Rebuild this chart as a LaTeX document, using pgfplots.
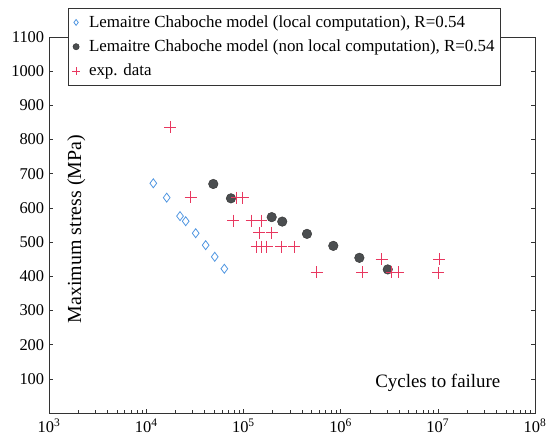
\documentclass[border=0pt]{standalone}
\usepackage{pgfplots}
\pgfplotsset{compat=1.18}
\usepackage{fontspec}
\setmainfont{Liberation Serif}
\definecolor{dblue}{RGB}{80,150,225}
\definecolor{dred}{RGB}{232,55,95}
\definecolor{dgray}{RGB}{75,78,80}
\begin{document}
\fontsize{17}{20}\selectfont
\begin{tikzpicture}
\useasboundingbox (-49bp,-22bp) rectangle (500bp,413bp);
\begin{axis}[
  scale only axis,
  width=486bp, height=376bp,
  xmode=log,
  xmin=1e3, xmax=1e8,
  ymin=0, ymax=1100,
  xtick={1e3,1e4,1e5,1e6,1e7,1e8},
  xticklabels={10\textsuperscript{3},10\textsuperscript{4},10\textsuperscript{5},10\textsuperscript{6},10\textsuperscript{7},10\textsuperscript{8}},
  ytick={100,200,...,1100},
  /pgf/number format/assume math mode=true,
  /pgf/number format/1000 sep={},
  tick label style={font=\fontsize{16.5}{19}\selectfont},
  yticklabel style={xshift=1bp},
  tick align=inside,
  major tick length=4bp,
  minor tick length=3bp,
  xtick pos=bottom,
  axis line style={line width=0.7pt, black!80},
  tick style={black!80, line width=0.5pt},
  xlabel={Cycles to failure},
  xlabel style={at={(axis description cs:0.80,0.08)}, anchor=center, font=\fontsize{19}{22}\selectfont},
  ylabel={Maximum stress (MPa)},
  ylabel style={at={(axis description cs:0.056,0.489)}, anchor=center, font=\fontsize{20}{23}\selectfont},
  legend style={at={(axis description cs:0.039,1.077)}, anchor=north west, draw=black!80, line width=0.5pt, font=\fontsize{17}{20}\selectfont, row sep=6bp, inner xsep=4bp, inner ysep=5bp, column sep=7bp},
  legend image post style={scale=0.65},
  legend cell align=left,
  clip=false,
]
\addplot[only marks, mark=diamond, mark size=4.5bp, color=dblue, mark options={draw=dblue, line width=0.8pt}] coordinates {
 (11830,672) (16250,630) (22280,576) (25480,561) (32300,526) (40900,491) (50700,457) (63700,422)
};
\addlegendentry{Lemaitre Chaboche model (local computation), R=0.54}
\addplot[only marks, mark=*, mark size=4.8bp, color=dgray, mark options={fill=dgray, draw=black!80}] coordinates {
 (49000,670) (74500,628) (195500,573) (251000,560) (451000,524) (841000,489) (1560000,454) (3055000,420)
};
\addlegendentry{Lemaitre Chaboche model (non local computation), R=0.54}
\addplot[only marks, mark=+, mark size=6bp, color=dred, mark options={draw=dred, line width=0.8pt}] coordinates {
 (17600,836) (28700,631) (85000,630) (98000,630)
 (78700,563) (121700,563) (151700,563)
 (145800,527) (195500,527)
 (137000,487) (152000,487) (173700,487) (243700,487) (333800,487)
 (567000,412) (1673000,412) (3360000,412) (3925000,412) (10100000,410)
 (2650000,450) (10350000,450)
};
\addlegendentry{exp. data}
\end{axis}
\end{tikzpicture}
\end{document}
